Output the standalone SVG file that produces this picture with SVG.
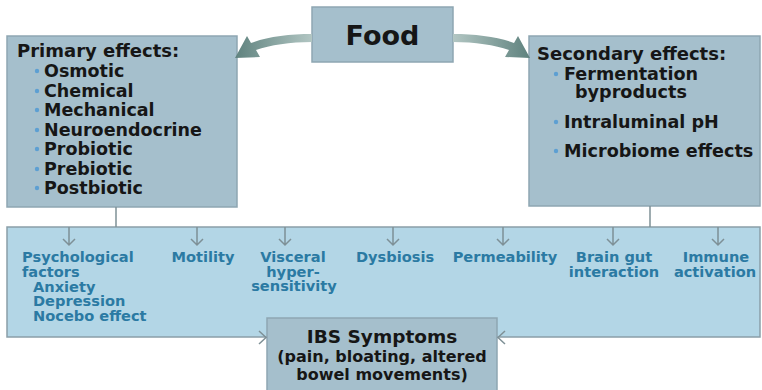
<svg xmlns="http://www.w3.org/2000/svg" width="762" height="390" viewBox="0 0 762 390">
<defs>
<linearGradient id="gl" x1="0" y1="0" x2="1" y2="0">
<stop offset="0" stop-color="#5f827e"/><stop offset="1" stop-color="#b2c6c3"/>
</linearGradient>
<linearGradient id="gr" x1="0" y1="0" x2="1" y2="0">
<stop offset="0" stop-color="#b2c6c3"/><stop offset="1" stop-color="#5f827e"/>
</linearGradient>
</defs>
<style>
.box{fill:#a5bfcc;stroke:#8ea6b2;stroke-width:1.5}
.band{fill:#b3d6e6;stroke:#8a9ea8;stroke-width:1.5}
.t{font-family:"DejaVu Sans",Verdana,sans-serif;font-weight:bold;fill:#161616}
.h{font-size:18px}
.i{font-size:17.5px}
.b{fill:#5d9fd2}
.f{font-family:"DejaVu Sans",Verdana,sans-serif;font-weight:bold;font-size:14.6px;fill:#2b7aa3}
.c{text-anchor:middle}
.ln{fill:none;stroke:#7e9096;stroke-width:1.5}
</style>
<rect width="762" height="390" fill="#ffffff"/>

<g id="food">
<rect class="box" x="312" y="7" width="141" height="55"/>
<text class="t c" x="382.5" y="45" font-size="27">Food</text>
</g>

<g id="primary">
<rect class="box" x="7" y="36" width="230" height="171"/>
<text class="t h" x="17" y="57">Primary effects:</text>
<g class="t i">
<text x="44" y="77">Osmotic</text>
<text x="44" y="97">Chemical</text>
<text x="44" y="116">Mechanical</text>
<text x="44" y="136">Neuroendocrine</text>
<text x="44" y="155">Probiotic</text>
<text x="44" y="175">Prebiotic</text>
<text x="44" y="194">Postbiotic</text>
</g>
<g class="b">
<circle cx="37" cy="71" r="2.2"/><circle cx="37" cy="91" r="2.2"/><circle cx="37" cy="110" r="2.2"/>
<circle cx="37" cy="130" r="2.2"/><circle cx="37" cy="149" r="2.2"/><circle cx="37" cy="169" r="2.2"/>
<circle cx="37" cy="188" r="2.2"/>
</g>
</g>

<g id="secondary">
<rect class="box" x="529" y="36" width="231" height="170"/>
<text class="t h" x="537" y="60">Secondary effects:</text>
<g class="t" font-size="17.6">
<text x="564" y="80">Fermentation</text>
<text x="575" y="98">byproducts</text>
<text x="564" y="128">Intraluminal pH</text>
<text x="564" y="157">Microbiome effects</text>
</g>
<g class="b">
<circle cx="556" cy="74" r="2.2"/><circle cx="556" cy="122" r="2.2"/><circle cx="556" cy="151" r="2.2"/>
</g>
</g>

<g id="factors">
<rect class="band" x="7" y="227" width="753" height="110"/>
<text class="f" x="22" y="262">Psychological</text>
<text class="f" x="22" y="276.5">factors</text>
<text class="f" x="33" y="291.5">Anxiety</text>
<text class="f" x="33" y="306">Depression</text>
<text class="f" x="33" y="321">Nocebo effect</text>
<text class="f c" x="203" y="262">Motility</text>
<text class="f c" x="293" y="262">Visceral</text>
<text class="f c" x="293" y="276.5">hyper-</text>
<text class="f c" x="294" y="291">sensitivity</text>
<text class="f c" x="395" y="262">Dysbiosis</text>
<text class="f c" x="505" y="262">Permeability</text>
<text class="f c" x="614" y="262">Brain gut</text>
<text class="f c" x="614" y="276.5">interaction</text>
<text class="f c" x="716" y="262">Immune</text>
<text class="f c" x="715" y="276.5">activation</text>
</g>

<g id="ibs">
<rect class="box" x="267" y="318" width="230" height="80"/>
<text class="t c" x="382" y="343" font-size="18.5">IBS Symptoms</text>
<text class="t c" x="382" y="362" font-size="16">(pain, bloating, altered</text>
<text class="t c" x="382" y="380" font-size="16">bowel movements)</text>
</g>

<g id="connectors">
<path d="M453 34 C476 34 499 37 514 43 L518 36 L530 58 L505 57 L509 50 C495 45 475 42 453 42 Z" fill="url(#gr)"/>
<path d="M312 34 C289 34 266 37 251 43 L247 36 L235 58 L260 57 L256 50 C270 45 290 42 312 42 Z" fill="url(#gl)"/>
<line class="ln" x1="116" y1="207" x2="116" y2="227"/>
<line class="ln" x1="650" y1="206" x2="650" y2="227"/>
<g class="ln">
<path d="M69 227 V245 M63 239 L69 245 L75 239"/>
<path d="M197 227 V245 M191 239 L197 245 L203 239"/>
<path d="M285 227 V245 M279 239 L285 245 L291 239"/>
<path d="M393 227 V245 M387 239 L393 245 L399 239"/>
<path d="M503 227 V245 M497 239 L503 245 L509 239"/>
<path d="M613 227 V245 M607 239 L613 245 L619 239"/>
<path d="M718 227 V245 M712 239 L718 245 L724 239"/>
<path d="M259 331 L266 337.5 L259 344"/>
<path d="M505 331 L498 337.5 L505 344"/>
</g>
</g>
</svg>
